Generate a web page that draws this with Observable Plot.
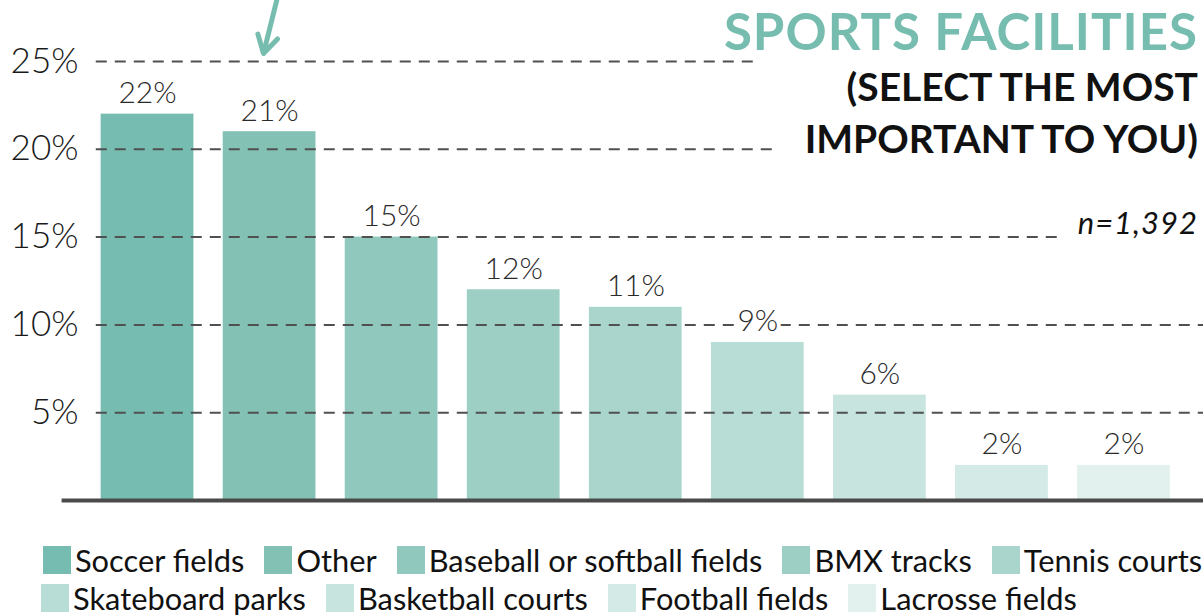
<!DOCTYPE html>
<html><head><meta charset="utf-8">
<script src="https://cdn.jsdelivr.net/npm/d3@7"></script>
<script src="https://cdn.jsdelivr.net/npm/@observablehq/plot@0.6"></script>
<style>
body{margin:0;background:#fff;}
#wrap{position:relative;width:1203px;height:616px;overflow:hidden;font-family:Lato,"Open Sans",sans-serif;}
#chart{position:absolute;left:0;top:0;}
.tl{position:absolute;right:0;white-space:nowrap;line-height:1.2;padding-right:5px;}
.t1{font-size:51px;font-weight:700;letter-spacing:1px;color:#76bdb0;padding-bottom:4px;padding-right:5px;background:linear-gradient(to right,rgba(255,255,255,0) 30px,#fff 30px);}
.t2{font-size:39px;font-weight:700;color:#111;background:#fff;padding-left:26px;}
.t3{font-size:31px;font-style:italic;letter-spacing:1px;color:#111;background:#fff;padding-left:16px;}
#legend{position:absolute;left:0;top:541px;width:1203px;}
.row{display:flex;flex-wrap:nowrap;align-items:center;height:38px;white-space:nowrap;}
.item{display:flex;align-items:center;margin-right:20px;font-size:30.8px;color:#111;flex:none;}
.sw{width:28px;height:28px;margin-right:4px;flex:none;}
</style></head><body>
<div id="wrap">
  <div id="chart"></div>
  <div id="title"></div>
  <div id="legend"></div>
</div>
<script>
const categories = ["Soccer fields","Other","Baseball or softball fields","BMX tracks","Tennis courts","Skateboard parks","Basketball courts","Football fields","Lacrosse fields"];
const values = [22,21,15,12,11,9,6,2,2];
const colors = ["#76bcb0","#83c1b5","#90c8bd","#9dcfc5","#a9d5cd","#b8ddd7","#c7e4df","#d4eae6","#e2f1ee"];
const yTicks = [5,10,15,20,25];
const titleText = "SPORTS FACILITIES";
const subtitleLines = ["(SELECT THE MOST","IMPORTANT TO YOU)"];
const noteText = "n=1,392";
const legendRows = [[0,1,2,3,4],[5,6,7,8]];
// annotation arrow, in chart units (bar index, percent)
const arrowData = [{x1:1.07, y1:28.8, x2:0.95, y2:25.45}];

const data = categories.map((c,i)=>({i, category:c, value:values[i]}));

const chart = Plot.plot({
  width:1203, height:520,
  marginLeft:86, marginRight:18.5, marginTop:0, marginBottom:20,
  x:{domain:[-0.5,8.5], axis:null},
  y:{domain:[0,28.47], axis:null},
  color:{domain:categories, range:colors},
  style:{fontFamily:"Lato, 'Open Sans', sans-serif", background:"transparent", overflow:"visible"},
  marks:[
    Plot.rectY(data,{x1:d=>d.i-0.38, x2:d=>d.i+0.38, y:"value", fill:"category"}),
    Plot.ruleY(yTicks,{x1:-0.42, x2:8.75, stroke:"#505050", strokeWidth:2, strokeDasharray:"11,8"}),
    Plot.axisY(yTicks,{anchor:"left", tickSize:0, tickPadding:8, tickFormat:d=>d+"%", fontSize:35, fontWeight:300, fill:"#1a1a1a", label:null}),
    Plot.ruleY([0],{x1:-0.7, x2:8.75, stroke:"#4a4a4a", strokeWidth:4}),
    Plot.text(data,{x:"i", y:"value", text:d=>d.value+"%", lineAnchor:"bottom", dy:-11, fontSize:30, fontWeight:300, fill:"#2a2a2a", stroke:"white", strokeWidth:8, paintOrder:"stroke"}),
    Plot.arrow(arrowData,{x1:"x1", y1:"y1", x2:"x2", y2:"y2", stroke:"#76bdb0", strokeWidth:5, headLength:22, headAngle:60})
  ]
});
document.getElementById("chart").appendChild(chart);

const title = document.getElementById("title");
const mk = (cls, text, top) => {
  const d = document.createElement("div");
  d.className = "tl " + cls;
  d.textContent = text;
  d.style.top = top + "px";
  title.appendChild(d);
};
mk("t1", titleText, -0.5);
mk("t2", subtitleLines[0], 62.5);
mk("t2", subtitleLines[1], 114.5);
mk("t3", noteText, 204.4);

const legend = document.getElementById("legend");
legendRows.forEach((row, r) => {
  const rd = document.createElement("div");
  rd.className = "row";
  rd.style.paddingLeft = (r === 0 ? 43 : 41) + "px";
  row.forEach(i => {
    const it = document.createElement("div");
    it.className = "item";
    const sw = document.createElement("div");
    sw.className = "sw";
    sw.style.background = colors[i];
    const tx = document.createElement("span");
    tx.textContent = categories[i];
    it.appendChild(sw); it.appendChild(tx);
    rd.appendChild(it);
  });
  legend.appendChild(rd);
});
</script>
</body></html>
